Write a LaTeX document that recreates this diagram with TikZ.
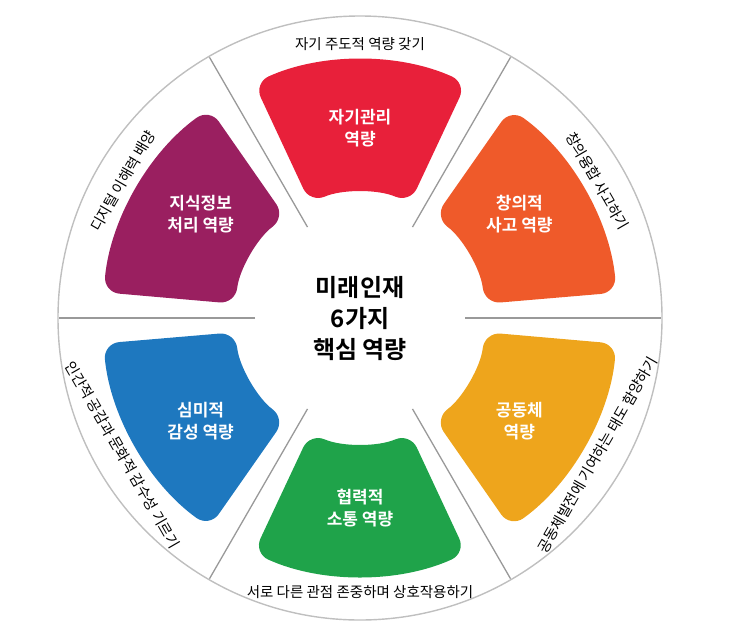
\documentclass[tikz,border=0pt]{standalone}
\usepackage{fontspec}
\usetikzlibrary{calc}
\setmainfont{Noto Sans CJK KR}[BoldFont={Noto Sans CJK KR Bold}]
\definecolor{cred}{HTML}{E8203A}
\definecolor{corange}{HTML}{EF5A2A}
\definecolor{cgold}{HTML}{EEA51C}
\definecolor{cgreen}{HTML}{1FA34A}
\definecolor{cblue}{HTML}{1E78BF}
\definecolor{cpurple}{HTML}{9A1F60}
\tikzset{
  ringtext/.style={font=\fontsize{14.5}{16}\selectfont, text=black},
  innertext/.style={font=\bfseries\fontsize{17}{22}\selectfont, text=white, align=center},
  divider/.style={draw=gray!80, line width=1.3pt},
}
\begin{document}
\begin{tikzpicture}[x=1pt,y=1pt]
\useasboundingbox (0,0) rectangle (741,-627);
\coordinate (c) at (360,-318);
\draw[gray!50, line width=1.4pt] (c) circle[radius=302];
\foreach \a in {0,60,...,300}
  \draw[divider] ($(c)+(\a:105)$) -- ($(c)+(\a:301)$);
\foreach \a/\col in {90/cred,30/corange,-30/cgold,-90/cgreen,210/cblue,150/cpurple}{
  \begin{scope}[shift={(c)}, rotate=\a-90]
    \fill[\col, rounded corners=16pt] (-106,235) arc[start angle=114.3, end angle=65.7, radius=258]
      -- (50,115) arc[start angle=66.5, end angle=113.5, radius=125.4] -- cycle;
  \end{scope}
}
\node[innertext] (t1) at ($(c)+(90:190)$) {자기관리\\역량};
\node[innertext] (t2) at ($(c)+(33:190)$) {창의적\\사고 역량};
\node[innertext] (t3) at ($(c)+(-33:190)$) {공동체\\역량};
\node[innertext] (t4) at ($(c)+(-90:190)$) {협력적\\소통 역량};
\node[innertext] (t5) at ($(c)+(213:190)$) {심미적\\감성 역량};
\node[innertext] (t6) at ($(c)+(147:190)$) {지식정보\\처리 역량};
\node[font=\bfseries\fontsize{24}{31}\selectfont, align=center] (ctr) at (c) {미래인재\\6가지\\핵심 역량};
\node[ringtext, rotate=0] (r1) at ($(c)+(90:274)$) {자기 주도적 역량 갖기};
\node[ringtext, rotate=-60] (r2) at ($(c)+(30:274)$) {창의융합 사고하기};
\node[ringtext, rotate=60] (r3) at ($(c)+(-30:274)$) {공동체발전에 기여하는 태도 함양하기};
\node[ringtext, rotate=0] (r4) at ($(c)+(-90:274)$) {서로 다른 관점 존중하며 상호작용하기};
\node[ringtext, rotate=-60] (r5) at ($(c)+(210:274)$) {인간적 공감과 문화적 감수성 기르기};
\node[ringtext, rotate=60] (r6) at ($(c)+(150:274)$) {디지털 이해력 배양};
\end{tikzpicture}
\end{document}
